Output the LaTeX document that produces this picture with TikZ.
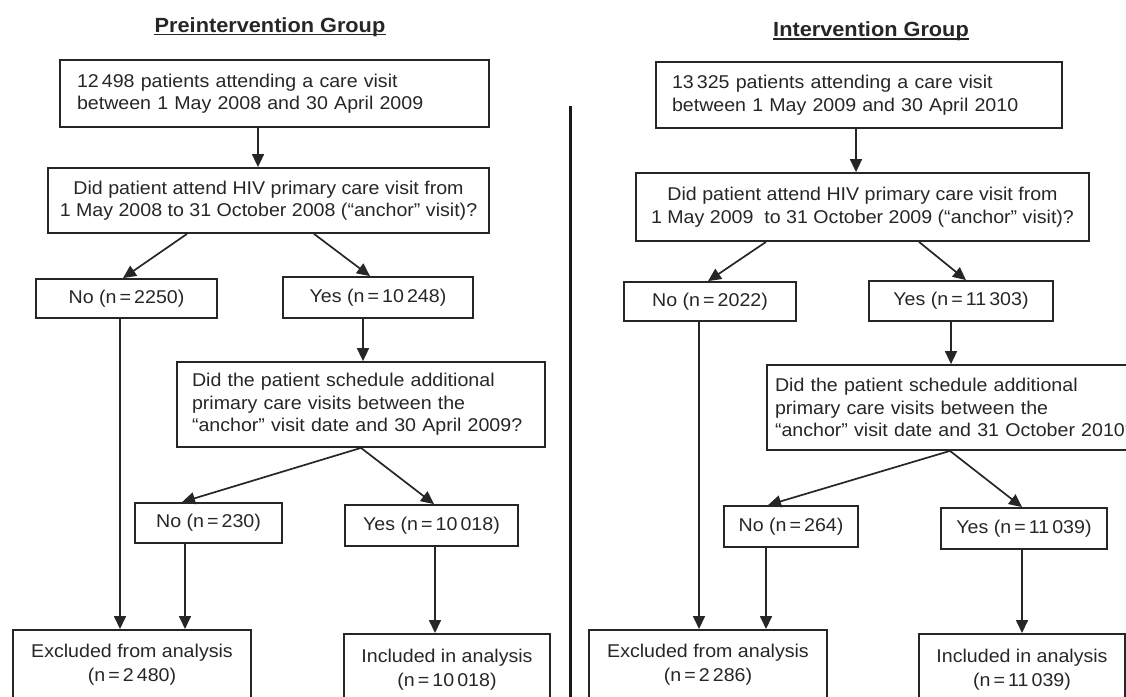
\documentclass[tikz,border=0pt]{standalone}
\usepackage{fontspec}
\setmainfont{Liberation Sans}[FakeStretch=1.06]
\usetikzlibrary{arrows.meta}
\tikzset{
  box/.style={draw=black!85, line width=1.8pt, inner sep=0pt, align=center,
    font=\fontsize{18.5}{22.5}\selectfont, text=black!85},
  lbox/.style={box, align=left},
  endbox/.style={draw=black!85, line width=1.8pt, inner xsep=0pt, inner ysep=14pt,
    anchor=north, font=\fontsize{18.5}{24}\selectfont, text=black!85},
  ttl/.style={inner sep=0pt, font=\fontsize{20.5}{24}\selectfont\bfseries, text=black!85},
  arr/.style={-{Triangle[length=13pt,width=12pt]}, line width=1.7pt, draw=black!85},
  sep/.style={line width=3pt, draw=black!90},
  uline/.style={line width=1.6pt, draw=black!85}
}
\newcommand{\boxtxt}[2]{\parbox[t][60pt][t]{#1}{\centering #2}}
\begin{document}
\begin{tikzpicture}[x=1pt, y=-1pt]
\useasboundingbox (0,0) rectangle (1126,696);
\clip (0,0) rectangle (1126,696);

% ---------- titles ----------
\node[ttl, anchor=base] (tL) at (270,32) {Preintervention Group\ };
\draw[uline] ([yshift=-2.5pt]tL.base west) -- ([yshift=-2.5pt]tL.base east);
\node[ttl, anchor=base] (tR) at (871,36) {Intervention Group};
\draw[uline] ([yshift=-3pt]tR.base west) -- ([yshift=-3pt]tR.base east);

% separator
\draw[sep] (570,106) -- (570,700);

% ---------- left group ----------
\node[lbox, text width=395pt, inner xsep=17pt, minimum height=67pt] (L1) at (274.5,93.5)
  {12\,498 patients attending a care visit\\between 1 May 2008 and 30 April 2009};
\node[box, minimum width=441pt, minimum height=65pt] (L2) at (268.5,200.5)
  {Did patient attend HIV primary care visit from\\1 May 2008 to 31 October 2008 (“anchor” visit)?};
\node[box, minimum width=181pt, minimum height=39pt] (Lno) at (126.5,298.5) {No (n\,=\,2250)};
\node[box, minimum width=190pt, minimum height=41pt] (Lyes) at (378,297.5) {Yes (n\,=\,10\,248)};
\node[lbox, text width=338pt, inner xsep=15pt, minimum height=85pt] (L3) at (361,404.5)
  {Did the patient schedule additional\\primary care visits between the\\“anchor” visit date and 30 April 2009?};
\node[box, minimum width=147pt, minimum height=40pt] (Lno2) at (208.5,523) {No (n\,=\,230)};
\node[box, minimum width=173pt, minimum height=41pt] (Lyes2) at (431.5,525.5) {Yes (n\,=\,10\,018)};
\node[endbox] (Lexc) at (132,629) {\boxtxt{238pt}{Excluded from analysis\\(n\,=\,2\,480)}};
\node[endbox, inner ysep=15pt] (Linc) at (447,633) {\boxtxt{206pt}{Included in analysis\\(n\,=\,10\,018)}};

\draw[arr] (L1.south -| 258,0) -- (L2.north -| 258,0);
\draw[arr] (L2.south -| 187,0) -- (Lno.north -| 123,0);
\draw[arr] (L2.south -| 314,0) -- (Lyes.north -| 370,0);
\draw[arr] (Lyes.south -| 363,0) -- (L3.north -| 363,0);
\draw[arr] (L3.south -| 361,0) -- (Lno2.north -| 182,0);
\draw[arr] (L3.south -| 361,0) -- (Lyes2.north -| 434,0);
\draw[arr] (Lno.south -| 120,0) -- (Lexc.north -| 120,0);
\draw[arr] (Lno2.south -| 185,0) -- (Lexc.north -| 185,0);
\draw[arr] (Lyes2.south -| 435,0) -- (Linc.north -| 435,0);

% ---------- right group ----------
\node[lbox, text width=374pt, inner xsep=16pt, minimum height=66pt] (R1) at (859,95)
  {13\,325 patients attending a care visit\\between 1 May 2009 and 30 April 2010};
\node[box, minimum width=453pt, minimum height=68pt] (R2) at (862.5,207)
  {Did patient attend HIV primary care visit from\\1 May 2009 \ to 31 October 2009 (“anchor” visit)?};
\node[box, minimum width=172pt, minimum height=39pt] (Rno) at (710,301.5) {No (n\,=\,2022)};
\node[box, minimum width=184pt, minimum height=40pt] (Ryes) at (961,301) {Yes (n\,=\,11\,303)};
\node[lbox, text width=400pt, inner xsep=8pt, minimum height=85pt] (R3) at (975,407.5)
  {Did the patient schedule additional\\primary care visits between the\\“anchor” visit date and 31 October 2010?};
\node[box, minimum width=134pt, minimum height=41pt] (Rno2) at (791,526.5) {No (n\,=\,264)};
\node[box, minimum width=166pt, minimum height=41pt] (Ryes2) at (1024,528.5) {Yes (n\,=\,11\,039)};
\node[endbox] (Rexc) at (708,629) {\boxtxt{238pt}{Excluded from analysis\\(n\,=\,2\,286)}};
\node[endbox, inner ysep=15pt] (Rinc) at (1022,633) {\boxtxt{206pt}{Included in analysis\\(n\,=\,11\,039)}};

\draw[arr] (R1.south -| 856,0) -- (R2.north -| 856,0);
\draw[arr] (R2.south -| 766,0) -- (Rno.north -| 708,0);
\draw[arr] (R2.south -| 919,0) -- (Ryes.north -| 966,0);
\draw[arr] (Ryes.south -| 951,0) -- (R3.north -| 951,0);
\draw[arr] (R3.south -| 950,0) -- (Rno2.north -| 768,0);
\draw[arr] (R3.south -| 950,0) -- (Ryes2.north -| 1022,0);
\draw[arr] (Rno.south -| 699,0) -- (Rexc.north -| 699,0);
\draw[arr] (Rno2.south -| 766,0) -- (Rexc.north -| 766,0);
\draw[arr] (Ryes2.south -| 1022,0) -- (Rinc.north -| 1022,0);
\end{tikzpicture}
\end{document}
